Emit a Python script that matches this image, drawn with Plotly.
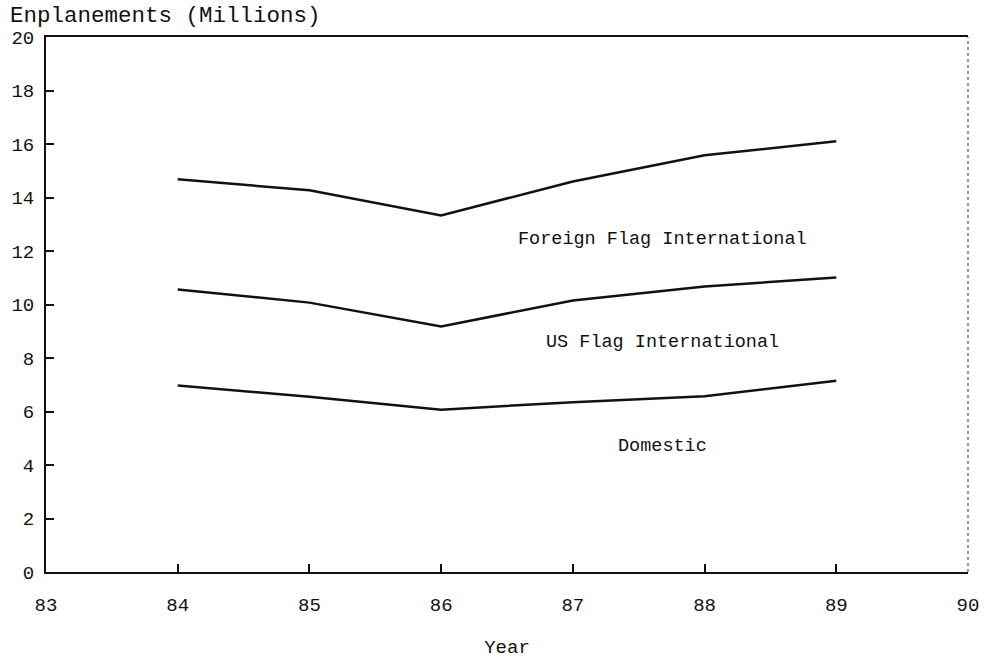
import numpy as np
import plotly.graph_objects as go

# Enplanements by year (millions), stacked from the bottom up
years = [84, 85, 86, 87, 88, 89]
domestic = [6.97, 6.55, 6.07, 6.35, 6.57, 7.15]
us_flag_intl = [3.59, 3.52, 3.11, 3.80, 4.10, 3.86]
foreign_flag_intl = [4.12, 4.20, 4.15, 4.45, 4.91, 5.09]

series_names = ["Domestic", "US Flag International", "Foreign Flag International"]
x_ticks = [83, 84, 85, 86, 87, 88, 89, 90]
y_ticks = [0, 2, 4, 6, 8, 10, 12, 14, 16, 18, 20]

# Region labels placed inside each band
label_x = [87.68, 87.68, 87.68]
label_y = [4.68, 8.58, 12.43]

FONT = "Liberation Mono, DejaVu Sans Mono, monospace"
INK = "#111111"

fig = go.Figure()
for name, vals in zip(series_names, [domestic, us_flag_intl, foreign_flag_intl]):
    fig.add_trace(go.Scatter(
        x=years, y=vals, name=name, mode="lines",
        stackgroup="enpl", fill="none",
        line=dict(color=INK, width=2.5),
        hoverinfo="x+y+name",
    ))

for name, lx, ly in zip(series_names, label_x, label_y):
    fig.add_annotation(x=lx, y=ly, xref="x", yref="y", text=name,
                       showarrow=False, font=dict(family=FONT, size=18.5, color=INK))

fig.add_annotation(x=-0.041, y=1.040, xref="paper", yref="paper",
                   text="Enplanements (Millions)", showarrow=False,
                   xanchor="left", yanchor="middle",
                   font=dict(family=FONT, size=22.5, color=INK))

# Light dotted right-hand border
fig.add_shape(type="line", xref="paper", yref="paper", x0=1, x1=1, y0=0, y1=1,
              line=dict(color="#333333", width=1, dash="dot"))

fig.update_layout(
    width=984, height=660,
    margin=dict(l=46, r=16, t=37, b=88, autoexpand=False),
    paper_bgcolor="white", plot_bgcolor="white",
    showlegend=False,
    font=dict(family=FONT, color=INK),
    xaxis=dict(
        range=[83, 90], tickvals=x_ticks, ticktext=[str(v) for v in x_ticks],
        showgrid=False, zeroline=False, automargin=False,
        showline=True, mirror=True, linecolor=INK, linewidth=2,
        ticks="inside", ticklen=8, tickwidth=1.5, tickcolor=INK,
        ticklabelstandoff=14,
        tickfont=dict(family=FONT, size=19, color=INK),
        title=dict(text="Year", font=dict(family=FONT, size=19, color=INK), standoff=24),
    ),
    yaxis=dict(
        range=[0, 20], tickvals=y_ticks, ticktext=[str(v) for v in y_ticks],
        showgrid=False, zeroline=False, automargin=False,
        showline=True, mirror=False, linecolor=INK, linewidth=2,
        ticks="inside", ticklen=8, tickwidth=1.5, tickcolor=INK,
        ticklabelstandoff=6,
        tickfont=dict(family=FONT, size=19, color=INK),
    ),
)

fig.write_html("out.html")
